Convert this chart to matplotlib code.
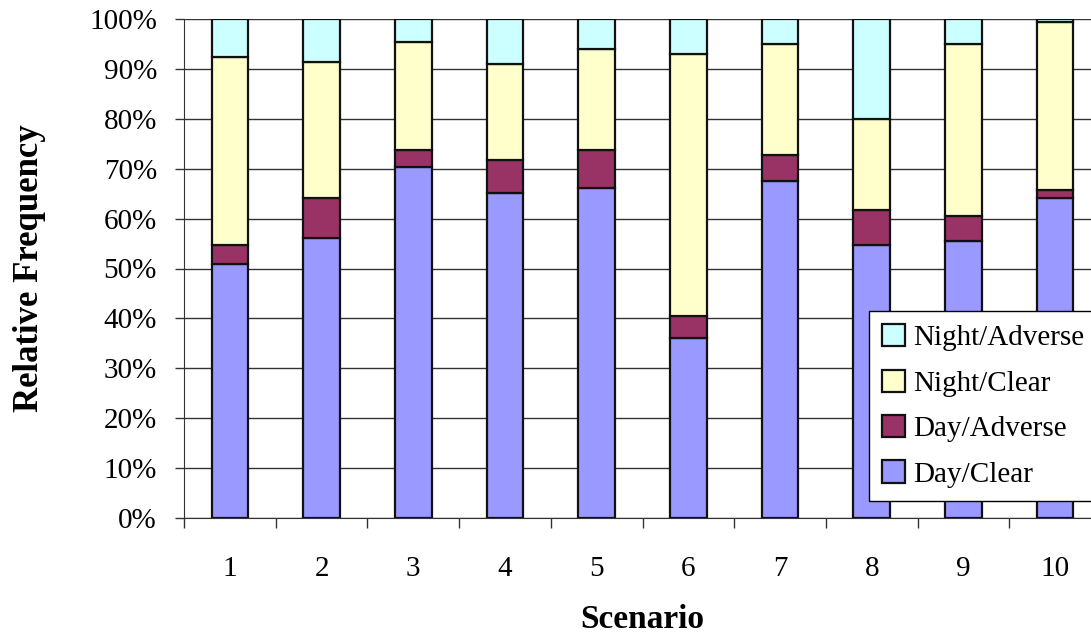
import matplotlib
matplotlib.use("Agg")
import matplotlib.pyplot as plt
import numpy as np

plt.rcParams['font.family'] = ['Liberation Serif', 'DejaVu Serif']

# share of each condition per scenario, in percent
scenarios = ['1', '2', '3', '4', '5', '6', '7', '8', '9', '10']
day_clear = [51.0, 56.2, 70.4, 65.1, 66.1, 36.0, 67.5, 54.8, 55.6, 64.1]
day_adverse = [3.8, 7.9, 3.4, 6.6, 7.6, 4.5, 5.2, 7.0, 4.9, 1.7]
night_clear = [37.5, 27.3, 21.5, 19.3, 20.3, 52.5, 22.3, 18.2, 34.5, 33.5]
night_adverse = [7.7, 8.6, 4.7, 9.0, 6.0, 7.0, 5.0, 20.0, 5.0, 0.7]

series = [
    ('Day/Clear', day_clear, '#9999FF'),
    ('Day/Adverse', day_adverse, '#993366'),
    ('Night/Clear', night_clear, '#FFFFCC'),
    ('Night/Adverse', night_adverse, '#CCFFFF'),
]

fig = plt.figure(figsize=(10.91, 6.37), dpi=100)
ax = fig.add_axes([184 / 1091, 1 - 518 / 637, (1101 - 184) / 1091, (518 - 19) / 637])

x = np.arange(1, len(scenarios) + 1)
bottom = np.zeros(len(scenarios))
handles = []
for name, vals, col in series:
    vals = np.array(vals)
    b = ax.bar(x, vals, 0.4, bottom=bottom, color=col, edgecolor='#111111',
               linewidth=1.6, label=name, zorder=3)
    handles.append(b)
    bottom += vals

ax.set_xlim(0.5, len(scenarios) + 0.5)
ax.set_ylim(0, 100)
ax.set_yticks(np.arange(0, 101, 10))
ax.set_yticklabels(['%d%%' % v for v in range(0, 101, 10)])
ax.yaxis.grid(True, color='#333333', linewidth=1.0, zorder=0)

ax.set_xticks(x)
ax.set_xticklabels(scenarios)
ax.set_xticks(np.arange(0.5, len(scenarios) + 1, 1), minor=True)
ax.tick_params(axis='x', which='major', length=0, pad=27, labelsize=21)
ax.tick_params(axis='x', which='minor', length=7, width=1, direction='out', color='#333333')
ax.tick_params(axis='y', length=6.5, width=1, direction='out', pad=13, labelsize=21, color='#333333')

for s in ['top', 'right']:
    ax.spines[s].set_visible(False)
ax.spines['left'].set_color('#333333')
ax.spines['bottom'].set_color('#333333')

fig.text(30 / 1091, 1 - 268 / 637, 'Relative Frequency', rotation=90, ha='center',
         va='center', fontsize=25, fontweight='bold')
fig.text(642 / 1091, 1 - 620 / 637, 'Scenario', ha='center', va='center',
         fontsize=24, fontweight='bold')

leg = fig.legend(handles[::-1], [s[0] for s in series][::-1], loc='upper left',
                 bbox_to_anchor=(869 / 1091, 1 - 311 / 637), fontsize=21,
                 fancybox=False, framealpha=1, edgecolor='black',
                 handlelength=0.8, handleheight=0.8, handletextpad=0.25,
                 labelspacing=0.62, borderpad=0.45, borderaxespad=0)
leg.get_frame().set_linewidth(1.0)

fig.savefig('out.png', dpi=100)
